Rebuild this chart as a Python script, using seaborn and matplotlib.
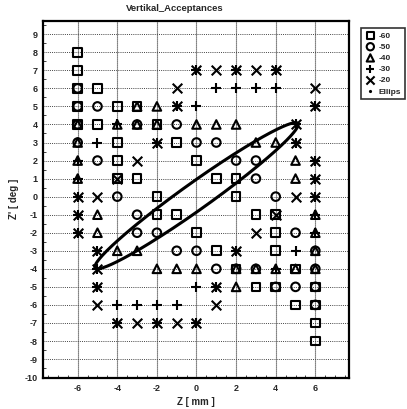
import numpy as np
import pandas as pd
import matplotlib
matplotlib.use("Agg")
import matplotlib.pyplot as plt
from matplotlib.lines import Line2D
from matplotlib.ticker import MultipleLocator
import seaborn as sns

sns.set_style("white")
plt.rcParams['font.family'] = ['Liberation Sans', 'DejaVu Sans']
plt.rcParams['font.weight'] = 'bold'
plt.rcParams['axes.unicode_minus'] = False

title = "Vertikal_Acceptances"
xlabel = "Z [ mm ]"
ylabel = "Z' [ deg ]"
series_labels = ["-60", "-50", "-40", "-30", "-20"]
ellipse_label = "Ellips"

s60_x = [-6, -6, -6, -5, -6, -4, -3, -6, -5, -2, -4, -1, -4, 0, -4, -3, 1, 2, -2, 2, -2, -1, 3, 4, 0, 4, 1, 4, 2, 5, 3, 4, 6, 5, 6, 6, 6]
s60_y = [8, 7, 6, 6, 5, 5, 5, 4, 4, 4, 3, 3, 2, 2, 1, 1, 1, 1, 0, 0, -1, -1, -1, -1, -2, -2, -3, -3, -4, -4, -5, -5, -5, -6, -6, -7, -8]

s50_x = [-6, -6, -5, -6, -3, -1, -6, 0, 1, -5, 2, 3, 3, -4, 4, -3, -3, -2, 5, -1, 0, 6, 1, 3, 6, 4, 5, 6, 6, 2]
s50_y = [6, 5, 5, 4, 4, 4, 3, 3, 3, 2, 2, 2, 1, 0, 0, -1, -2, -2, -2, -3, -3, -3, -4, -4, -4, -5, -5, -5, -6, -4]

s40_x = [-2, -6, -4, -3, -2, 0, 1, 2, -6, 3, 4, -6, 5, -6, 5, -5, -5, -4, -3, 6, 6, 6, -2, -1, 0, 2, 3, 4, 5, 6, 2, -3]
s40_y = [5, 4, 4, 4, 4, 4, 4, 4, 3, 3, 3, 2, 2, 1, 1, -1, -2, -3, -3, -1, -2, -3, -4, -4, -4, -4, -4, -4, -4, -4, -5, 5]

s30_x = [0, 2, 4, 1, 2, 3, 4, -1, 0, 6, -4, 5, -5, -2, 5, -6, 6, -6, 6, -6, 6, -6, 6, -6, 6, -5, 2, 5, -5, 4, -5, 0, 1, -4, -3, -2, -1, -4, -2, 0]
s30_y = [7, 7, 7, 6, 6, 6, 6, 5, 5, 5, 4, 4, 3, 3, 3, 2, 2, 1, 1, 0, 0, -1, -1, -2, -2, -3, -3, -3, -4, -4, -5, -5, -5, -6, -6, -6, -6, -7, -7, -7]

s20_x = [0, 1, 2, 3, 4, -1, 6, -1, 6, 5, -2, 5, -3, 6, -4, 6, -6, -5, 5, 6, -6, 4, -6, 3, -5, 2, -5, -5, 1, -5, 1, -4, -3, -2, -1, 0]
s20_y = [7, 7, 7, 7, 7, 6, 6, 5, 5, 4, 3, 3, 2, 2, 1, 1, 0, 0, 0, 0, -1, -1, -2, -2, -3, -3, -4, -5, -5, -6, -6, -7, -7, -7, -7, -7]

# Ellipse parameters (center, semi-axes, tilt)
ell_cx, ell_cy = 0.0, 0.05
ell_a, ell_b = 6.5, 0.72
ell_angle_deg = 38.1

series = [
    (series_labels[0], s60_x, s60_y, "s", True),
    (series_labels[1], s50_x, s50_y, "o", True),
    (series_labels[2], s40_x, s40_y, "^", True),
    (series_labels[3], s30_x, s30_y, "+", False),
    (series_labels[4], s20_x, s20_y, "x", False),
]

fig = plt.figure(figsize=(4.07, 4.09), dpi=100)
ax = fig.add_axes([43/407, 1-378/409, (349-43)/407, (378-20.7)/409])

for lab, xs, ys, mk, filled in series:
    df = pd.DataFrame({"x": xs, "y": ys})
    if filled:
        sns.scatterplot(data=df, x="x", y="y", marker=mk, s=38, facecolor="none",
                        edgecolor="black", linewidth=1.5, ax=ax, label=lab, zorder=3)
    else:
        sns.scatterplot(data=df, x="x", y="y", marker=mk, s=48, color="black",
                        edgecolor="black", linewidth=1.5, ax=ax, label=lab, zorder=3)

t = np.linspace(0, 2*np.pi, 300)
th = np.deg2rad(ell_angle_deg)
ex = ell_cx + ell_a*np.cos(t)*np.cos(th) - ell_b*np.sin(t)*np.sin(th)
ey = ell_cy + ell_a*np.cos(t)*np.sin(th) + ell_b*np.sin(t)*np.cos(th)
edf = pd.DataFrame({"x": ex, "y": ey})
sns.lineplot(data=edf, x="x", y="y", sort=False, estimator=None, color="black",
             linewidth=2.2, ax=ax, zorder=4)

ax.set_xlim(-7.75, 7.7)
ax.set_ylim(-10.05, 9.75)
ax.set_xticks(np.arange(-6, 7, 2))
ax.set_yticks(np.arange(-10, 10, 1))
ax.yaxis.set_minor_locator(MultipleLocator(0.5))
ax.xaxis.set_minor_locator(MultipleLocator(0.5))
ax.tick_params(axis="both", which="major", labelsize=6.5, length=2.5, width=0.8,
               direction="out", pad=1.5)
ax.tick_params(axis="both", which="minor", length=2, width=0.6, direction="in",
               bottom=True, left=True)
for lbl in ax.get_xticklabels() + ax.get_yticklabels():
    lbl.set_fontweight("bold")
ax.grid(True, which="major", axis="y", linestyle=(0, (1, 1.2)), color="#444444", linewidth=0.7)
ax.grid(True, which="major", axis="x", linestyle=(0, (1, 0.8)), color="#333333", linewidth=0.8)
for sp in ax.spines.values():
    sp.set_linewidth(1.6)
    sp.set_color("black")

ax.set_xlabel(xlabel, fontsize=7, fontweight="bold", labelpad=3)
ax.set_ylabel(ylabel, fontsize=7, fontweight="bold", labelpad=4)
ax.set_title(title, fontsize=6.8, fontweight="bold", x=0.43, pad=7)

handles, labels = ax.get_legend_handles_labels()
if ax.get_legend():
    ax.get_legend().remove()
handles = handles[:5]
labels = labels[:5]
handles.append(Line2D([], [], marker=".", markersize=3, linestyle="none", color="black"))
labels.append(ellipse_label)
leg = fig.legend(handles, labels, loc="upper left", bbox_to_anchor=(357/407, 1-24/409),
                 frameon=True, fancybox=False, edgecolor="black", markerscale=0.85,
                 handletextpad=0.3, borderpad=0.45, labelspacing=0.4, handlelength=1.3,
                 prop={"weight": "bold", "size": 6})
leg.get_frame().set_linewidth(1.2)

fig.savefig("out.png", dpi=100)
